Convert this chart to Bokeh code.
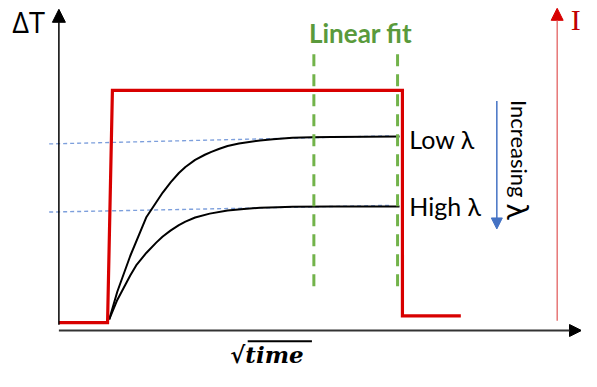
from bokeh.plotting import figure
from bokeh.models import Range1d, Arrow, NormalHead, Label
from bokeh.embed import file_html
from bokeh.resources import INLINE

# ---- schematic data (x: sqrt(time) units, y: ΔT units, y grows downward) ----
# heating current step (red)
step_x = [60, 110, 115, 413, 413, 473]
step_y = [335, 335, 97, 97, 328, 328]

# temperature rise curves
low_x = [111.7, 120, 133.3, 150, 166.7, 175, 183.3, 190, 200, 210, 216.7, 225, 233.3, 245,
         266.7, 280, 300, 320, 340, 410]
low_y = [331.7, 303.3, 266.7, 226.7, 201.7, 191, 181.7, 175.5, 168.3, 163, 160, 156.8, 154, 151.5,
         148.3, 147, 145.7, 145, 144.7, 144.3]
high_x = [111.7, 120, 133.3, 140, 150, 160, 166.7, 175, 183.3, 190, 200, 215, 233.3, 250,
          266.7, 285, 300, 340, 410]
high_y = [331.7, 311.7, 286.7, 275.5, 263.3, 253, 246.7, 240.5, 235, 231.5, 227.3, 223.3, 220, 218.5,
          217.3, 216.7, 216.3, 216, 216]

# linear fit extrapolations (blue dotted)
fit_x = [50, 400]
fit_low_y = [151.9, 143.6]
fit_high_y = [221.7, 214.8]

# linear-fit window (green dashed)
window_x = [322, 408]
window_y = [60, 298]

# axes
y_axis_x = [60, 60]
y_axis_y = [337, 14]
x_axis_x = [60, 597]
x_axis_y = [343, 343]
i_axis_x = [572, 572]
i_axis_y = [333, 13]
lam_arrow_x = [510, 510]
lam_arrow_y = [108, 239]

# labels
label_dt = "ΔT"
label_i = "I"
label_fit = "Linear fit"
label_low = "Low λ"
label_high = "High λ"
label_inc = "Increasing"
label_lam = "λ"
label_x = "√time"

W, H = 581, 371
p = figure(width=W, height=H, output_backend="svg", toolbar_location=None,
           x_range=Range1d(0, 597), y_range=Range1d(385, 5),
           min_border=0, outline_line_color=None)
p.axis.visible = False
p.grid.visible = False
p.background_fill_color = "white"
p.border_fill_color = "white"

RED = "#d80000"
GREEN = "#72b34a"
BLUE = "#4472c4"

# fit lines
p.line(fit_x, fit_low_y, line_color="#7d9fdc", line_width=1.4, line_dash="4 3")
p.line(fit_x, fit_high_y, line_color="#7d9fdc", line_width=1.4, line_dash="4 3")

# curves
p.line(low_x, low_y, line_color="black", line_width=2)
p.line(high_x, high_y, line_color="black", line_width=2)

# window
for wx in window_x:
    p.line([wx, wx], window_y, line_color=GREEN, line_width=3, line_dash="12 8")

# step
p.line(step_x, step_y, line_color=RED, line_width=3.2, line_join="miter")

# axes with arrows
p.add_layout(Arrow(x_start=y_axis_x[0], y_start=y_axis_y[0], x_end=y_axis_x[1], y_end=y_axis_y[1],
                   line_color="black", line_width=1.5,
                   end=NormalHead(size=13, fill_color="black", line_color="black")))
p.add_layout(Arrow(x_start=x_axis_x[0], y_start=x_axis_y[0], x_end=x_axis_x[1], y_end=x_axis_y[1],
                   line_color="#333333", line_width=2,
                   end=NormalHead(size=12, fill_color="black", line_color="black")))
p.add_layout(Arrow(x_start=i_axis_x[0], y_start=i_axis_y[0], x_end=i_axis_x[1], y_end=i_axis_y[1],
                   line_color="#e05555", line_width=1.2,
                   end=NormalHead(size=12, fill_color=RED, line_color=RED)))
p.add_layout(Arrow(x_start=lam_arrow_x[0], y_start=lam_arrow_y[0], x_end=lam_arrow_x[1], y_end=lam_arrow_y[1],
                   line_color=BLUE, line_width=1.5,
                   end=NormalHead(size=11, fill_color=BLUE, line_color=BLUE)))

# texts
p.add_layout(Label(x=12, y=27, text=label_dt, text_font="Open Sans", text_font_size="29px",
                   text_color="black", text_baseline="middle"))
p.add_layout(Label(x=586, y=24, text=label_i, text_font="Liberation Serif", text_font_size="30px",
                   text_color="#c00000", text_baseline="middle"))
p.add_layout(Label(x=370, y=38, text=label_fit, text_font="Lato", text_font_style="bold",
                   text_font_size="26px", text_color="#5a9a3c", text_align="center",
                   text_baseline="middle"))
p.add_layout(Label(x=420, y=147, text=label_low, text_font="Lato", text_font_size="25px",
                   text_color="black", text_baseline="middle"))
p.add_layout(Label(x=420, y=215, text=label_high, text_font="Lato", text_font_size="25px",
                   text_color="black", text_baseline="middle"))
p.add_layout(Label(x=533, y=107, text=label_inc, text_font="Lato", text_font_size="22px",
                   text_color="black", angle=-1.5708, text_baseline="middle"))
p.add_layout(Label(x=533, y=213, text=label_lam, text_font="Lato", text_font_size="30px",
                   text_color="black", angle=-1.5708, text_baseline="middle"))
p.add_layout(Label(x=236, y=368, text=label_x, text_font="DejaVu Serif", text_font_style="bold italic",
                   text_font_size="23px", text_color="black", text_baseline="middle"))
p.line([254, 320], [354, 354], line_color="black", line_width=2)

open("out.html", "w").write(file_html(p, INLINE))
